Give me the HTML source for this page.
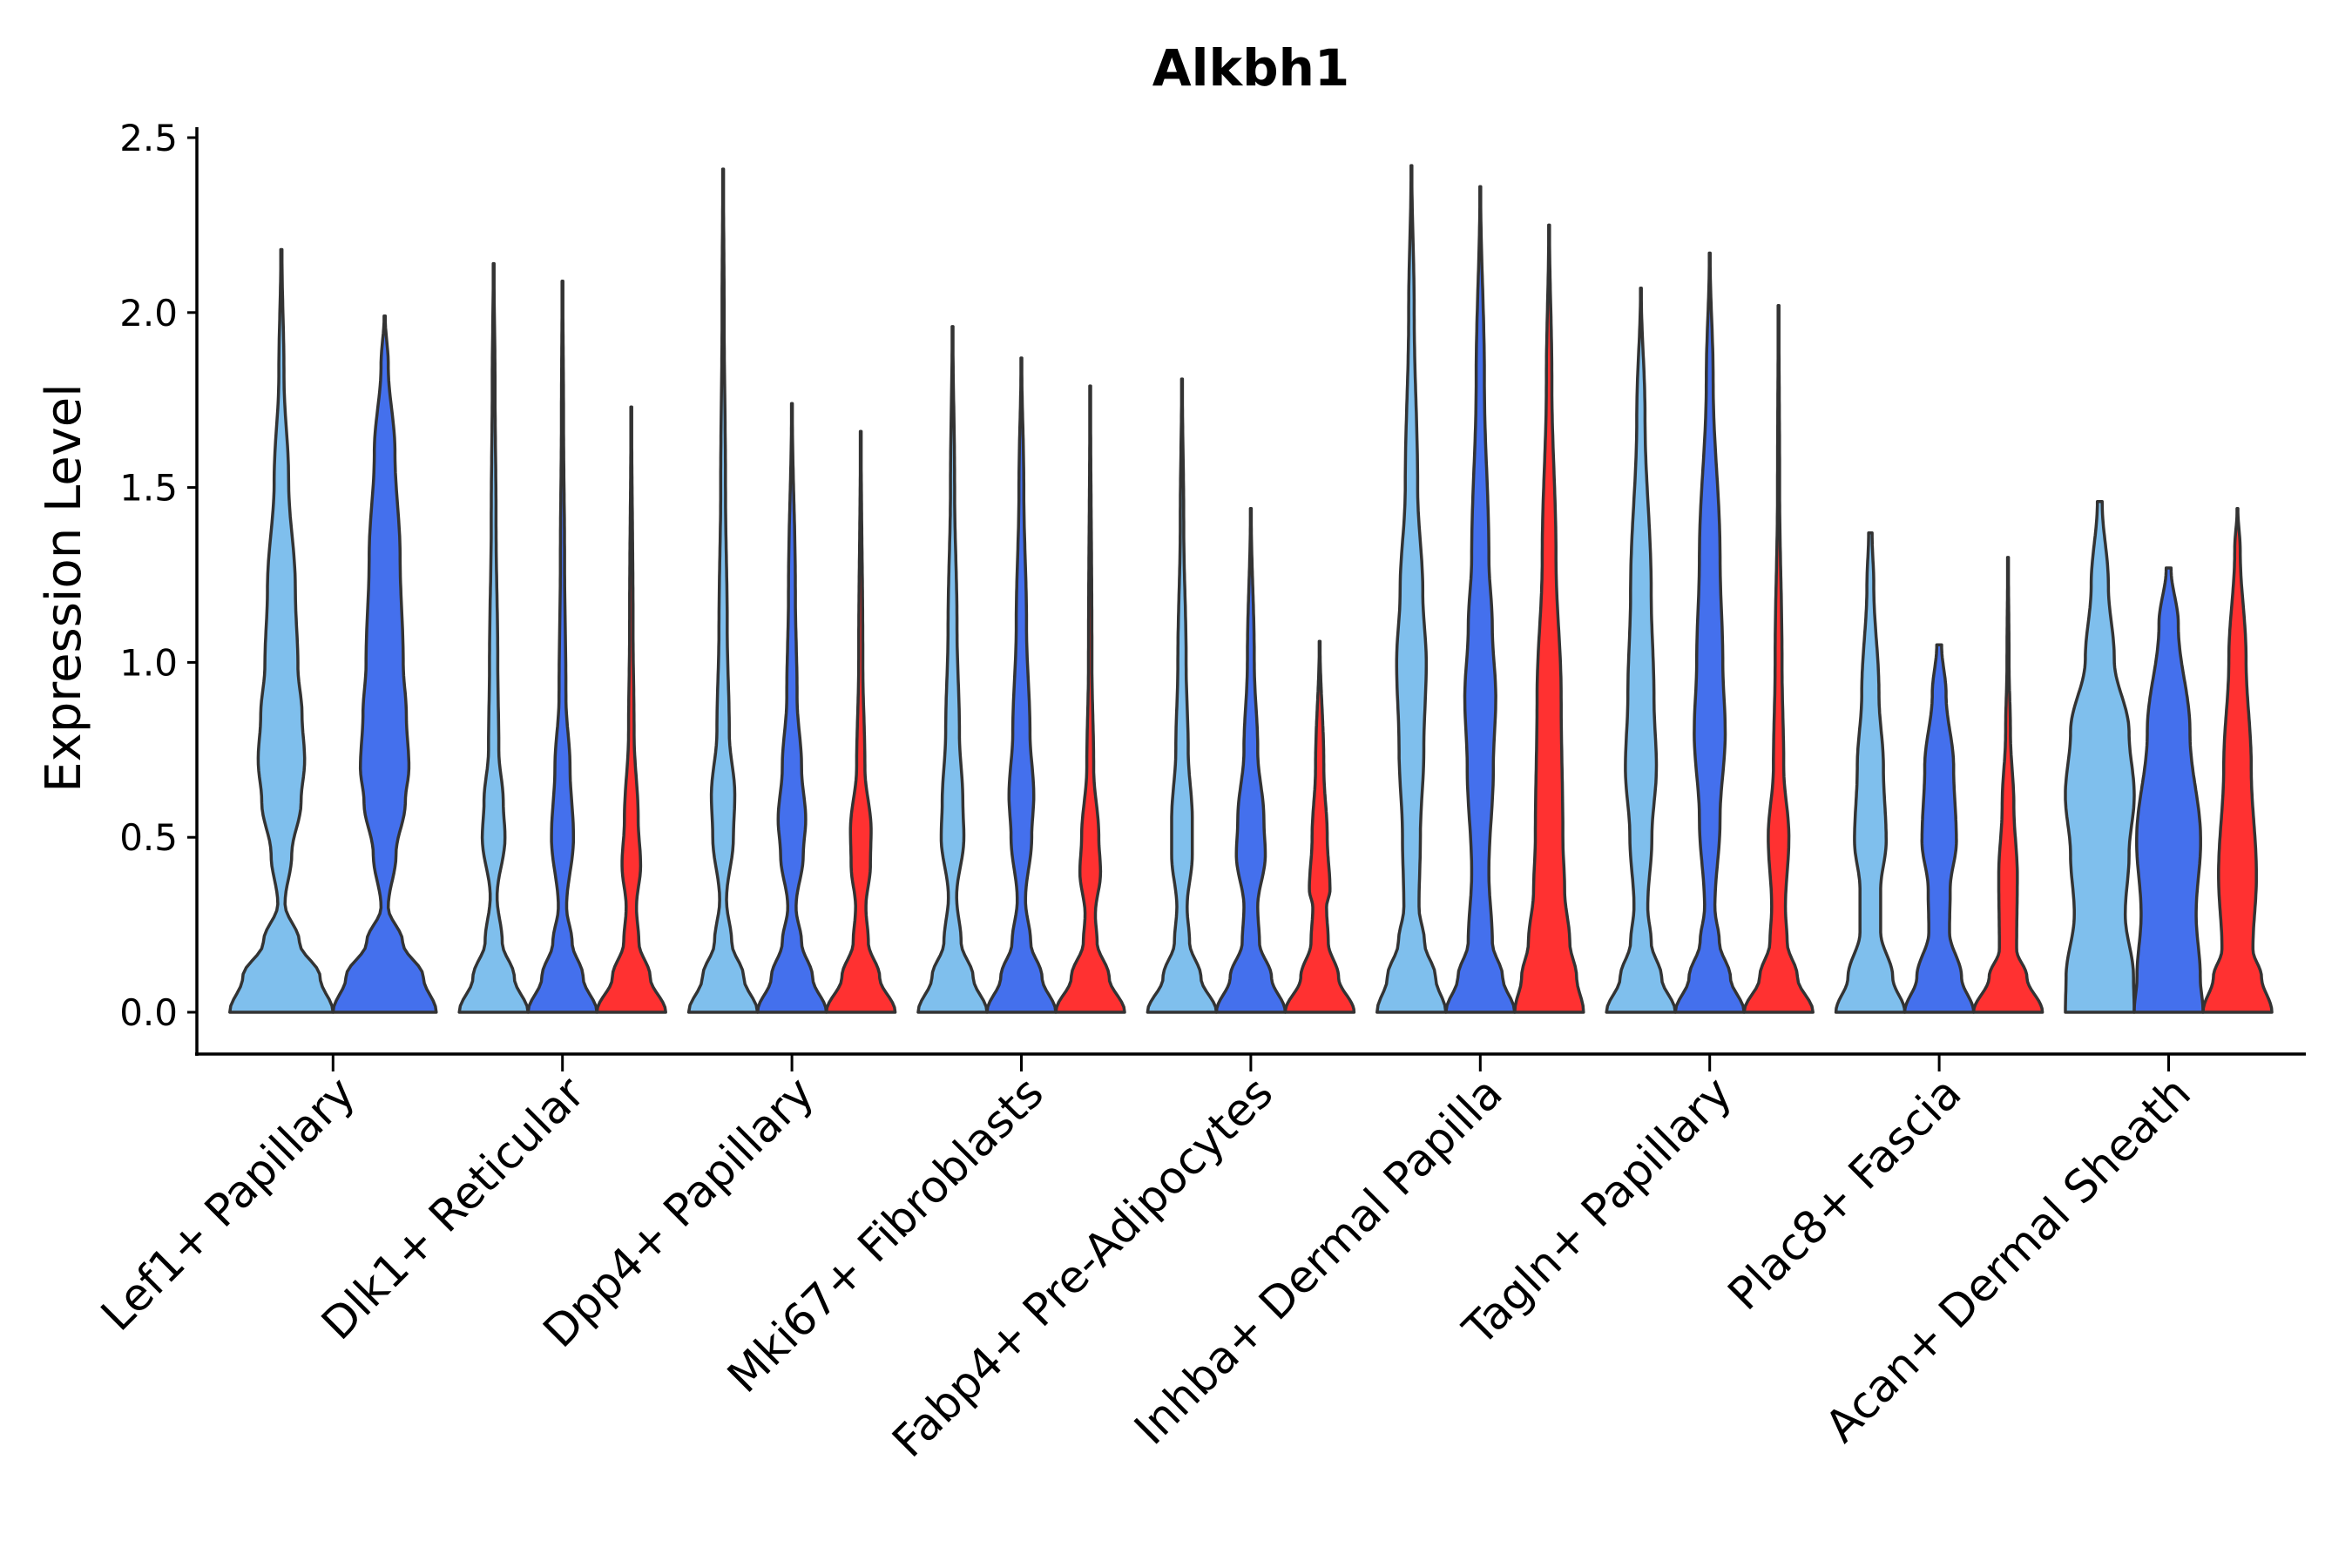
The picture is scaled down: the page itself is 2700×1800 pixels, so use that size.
<!DOCTYPE html>
<html><head><meta charset="utf-8"><style>
html,body{margin:0;padding:0;background:#fff;}
svg{display:block;font-family:"DejaVu Sans","Liberation Sans",sans-serif;}
</style></head><body>
<svg id="chart" width="2700" height="1800" viewBox="0 0 2700 1800" xmlns="http://www.w3.org/2000/svg">
<text x="1436" y="98" text-anchor="middle" font-size="58" font-weight="bold">Alkbh1</text>
<g id="violins"></g>
<g id="axes"></g>
<text transform="translate(92,675) rotate(-90)" text-anchor="middle" font-size="56">Expression Level</text>
</svg>
<script>
const categories = ["Lef1+ Papillary","Dlk1+ Reticular","Dpp4+ Papillary","Mki67+ Fibroblasts","Fabp4+ Pre-Adipocytes","Inhba+ Dermal Papilla","Tagln+ Papillary","Plac8+ Fascia","Acan+ Dermal Sheath"];
const yTicks = [0, 0.5, 1.0, 1.5, 2.0, 2.5];
const yTickLabels = ["0.0","0.5","1.0","1.5","2.0","2.5"];
const seriesNames = ["light","blue","red"];
const seriesColors = ["#7fbfed","#4470ed","#ff3131"];
// violins: [categoryIndex, seriesIndex, slotCount, slotIndex]
const violinGroups = [[0,0,2,0],[0,1,2,1],
 [1,0,3,0],[1,1,3,1],[1,2,3,2],
 [2,0,3,0],[2,1,3,1],[2,2,3,2],
 [3,0,3,0],[3,1,3,1],[3,2,3,2],
 [4,0,3,0],[4,1,3,1],[4,2,3,2],
 [5,0,3,0],[5,1,3,1],[5,2,3,2],
 [6,0,3,0],[6,1,3,1],[6,2,3,2],
 [7,0,3,0],[7,1,3,1],[7,2,3,2],
 [8,0,3,0],[8,1,3,1],[8,2,3,2]];
// density knots: [expression value, relative density]
const densities = [
 [[0,1],[0.1,0.75],[0.2,0.35],[0.31,0.07],[0.45,0.2],[0.6,0.38],[0.72,0.45],[0.85,0.4],[0.99,0.32],[1.21,0.27],[1.52,0.14],[1.82,0.05],[2.18,0.01]],
 [[0,1],[0.1,0.75],[0.2,0.35],[0.3,0.07],[0.45,0.22],[0.6,0.4],[0.7,0.47],[0.85,0.42],[1.0,0.36],[1.3,0.3],[1.6,0.2],[1.85,0.07],[1.99,0.01]],
 [[0,1],[0.1,0.6],[0.2,0.25],[0.33,0.1],[0.5,0.33],[0.6,0.28],[0.75,0.15],[1.0,0.12],[1.4,0.07],[1.8,0.04],[2.14,0.01]],
 [[0,1],[0.1,0.6],[0.2,0.28],[0.3,0.12],[0.5,0.32],[0.7,0.22],[0.9,0.1],[1.3,0.06],[1.7,0.03],[2.09,0.01]],
 [[0,1],[0.1,0.55],[0.2,0.22],[0.3,0.15],[0.42,0.27],[0.55,0.2],[0.8,0.08],[1.1,0.05],[1.73,0.01]],
 [[0,1],[0.1,0.6],[0.2,0.25],[0.32,0.1],[0.5,0.3],[0.62,0.34],[0.8,0.18],[1.1,0.12],[1.5,0.07],[2.0,0.03],[2.41,0.01]],
 [[0,1],[0.1,0.6],[0.2,0.28],[0.3,0.12],[0.45,0.33],[0.55,0.4],[0.7,0.28],[0.9,0.15],[1.2,0.1],[1.74,0.01]],
 [[0,1],[0.1,0.55],[0.2,0.22],[0.3,0.15],[0.42,0.28],[0.52,0.3],[0.7,0.12],[1.0,0.06],[1.66,0.01]],
 [[0,1],[0.1,0.6],[0.2,0.25],[0.33,0.12],[0.5,0.33],[0.6,0.3],[0.8,0.2],[1.1,0.13],[1.5,0.06],[1.96,0.01]],
 [[0,1],[0.1,0.6],[0.2,0.27],[0.32,0.12],[0.5,0.3],[0.62,0.36],[0.8,0.25],[1.1,0.15],[1.5,0.07],[1.87,0.01]],
 [[0,1],[0.1,0.55],[0.2,0.2],[0.28,0.15],[0.4,0.3],[0.5,0.25],[0.7,0.1],[1.0,0.05],[1.79,0.01]],
 [[0,1],[0.1,0.55],[0.2,0.22],[0.3,0.15],[0.45,0.3],[0.55,0.3],[0.75,0.18],[1.0,0.12],[1.4,0.05],[1.81,0.01]],
 [[0,1],[0.1,0.6],[0.2,0.25],[0.3,0.2],[0.45,0.42],[0.55,0.38],[0.75,0.2],[1.0,0.1],[1.44,0.01]],
 [[0,1],[0.1,0.55],[0.2,0.25],[0.3,0.2],[0.35,0.3],[0.5,0.22],[0.7,0.12],[1.06,0.01]],
 [[0,1],[0.1,0.7],[0.2,0.38],[0.3,0.22],[0.5,0.26],[0.75,0.36],[1.0,0.43],[1.2,0.33],[1.5,0.18],[2.0,0.08],[2.42,0.01]],
 [[0,1],[0.1,0.65],[0.2,0.35],[0.4,0.25],[0.7,0.38],[0.9,0.45],[1.1,0.35],[1.3,0.25],[1.8,0.12],[2.36,0.01]],
 [[0,1],[0.1,0.8],[0.2,0.6],[0.35,0.45],[0.5,0.4],[0.9,0.35],[1.3,0.2],[1.8,0.08],[2.25,0.01]],
 [[0,1],[0.1,0.6],[0.2,0.3],[0.3,0.2],[0.5,0.32],[0.7,0.45],[0.9,0.38],[1.2,0.3],[1.7,0.12],[2.07,0.01]],
 [[0,1],[0.1,0.6],[0.2,0.28],[0.3,0.15],[0.55,0.3],[0.8,0.45],[1.0,0.38],[1.3,0.3],[1.8,0.1],[2.17,0.01]],
 [[0,1],[0.1,0.55],[0.2,0.25],[0.3,0.2],[0.5,0.3],[0.7,0.15],[1.0,0.1],[1.5,0.03],[2.02,0.01]],
 [[0,1],[0.1,0.65],[0.23,0.3],[0.35,0.3],[0.49,0.46],[0.7,0.38],[0.91,0.25],[1.22,0.1],[1.37,0.05]],
 [[0,1],[0.1,0.65],[0.23,0.3],[0.35,0.32],[0.49,0.5],[0.7,0.42],[0.91,0.2],[1.05,0.07]],
 [[0,1],[0.1,0.55],[0.18,0.25],[0.39,0.27],[0.59,0.17],[0.8,0.07],[1.0,0.03],[1.3,0.01]],
 [[0,1],[0.1,0.98],[0.28,0.74],[0.45,0.85],[0.62,1.0],[0.8,0.85],[1.01,0.42],[1.22,0.25],[1.46,0.07]],
 [[0,1],[0.1,0.92],[0.28,0.8],[0.49,0.93],[0.8,0.62],[1.11,0.28],[1.27,0.07]],
 [[0,1],[0.1,0.7],[0.18,0.45],[0.39,0.55],[0.7,0.4],[1.01,0.25],[1.32,0.08],[1.44,0.01]]
];

const X0 = 226, X1 = 2647, YB = 1210, Y0 = 1162, PXU = 401.6;
const G0 = 382.3, GS = 263.4;
function yScale(v){ return Y0 - v*PXU; }
function xScale(i){ return G0 + i*GS; }
const NS = "http://www.w3.org/2000/svg";
function mk(tag, attrs, parent){ const e=document.createElementNS(NS,tag); for(const k in attrs) e.setAttribute(k,attrs[k]); parent.appendChild(e); return e; }

const vg = document.getElementById('violins');
function interp(knots, v){
  for(let i=0;i<knots.length-1;i++){
    const a=knots[i], b=knots[i+1];
    if(v>=a[0] && v<=b[0]){ const t=(v-a[0])/(b[0]-a[0]); const c=(1-Math.cos(Math.PI*t))/2; return a[1]+(b[1]-a[1])*c; }
  }
  return knots[knots.length-1][1];
}
violinGroups.forEach((g,idx)=>{
  const [ci, si, n, k] = g;
  const bandW = 0.9*GS, slotW = bandW/n;
  const cx = xScale(ci) - bandW/2 + slotW*(k+0.5);
  const half = slotW/2;
  const knots = densities[idx];
  const vmax = knots[knots.length-1][0];
  const steps = 120; const right=[], left=[];
  for(let s=0;s<=steps;s++){
    const v = vmax*s/steps; const w = Math.max(interp(knots,v),0.012)*half;
    right.push([cx+w, yScale(v)]); left.push([cx-w, yScale(v)]);
  }
  let d = "M"+left[0][0].toFixed(1)+","+left[0][1].toFixed(1);
  right.forEach(p=>{ d+=" L"+p[0].toFixed(1)+","+p[1].toFixed(1); });
  for(let i=left.length-1;i>=0;i--) d+=" L"+left[i][0].toFixed(1)+","+left[i][1].toFixed(1);
  d+=" Z";
  const p = mk('path',{d:d, fill:seriesColors[si], stroke:'#333333','stroke-width':3.5,'stroke-linejoin':'round'},vg);
  
  
});

const ax = document.getElementById('axes');
const yl = mk('line',{x1:X0,y1:146,x2:X0,y2:YB+2,stroke:'#000','stroke-width':3.5},ax);


const xl = mk('line',{x1:X0-2,y1:YB,x2:X1,y2:YB,stroke:'#000','stroke-width':3.5},ax);


yTicks.forEach((v,i)=>{
  const y=yScale(v);
  const t=mk('line',{x1:X0-11,y1:y,x2:X0,y2:y,stroke:'#000','stroke-width':3},ax);
  
  
  const tx=mk('text',{x:X0-22,y:y+15,'text-anchor':'end','font-size':42,fill:'#000'},ax);
  tx.textContent=yTickLabels[i];
  
  
});
categories.forEach((c,i)=>{
  const x=xScale(i);
  const t=mk('line',{x1:x,y1:YB,x2:x,y2:YB+20,stroke:'#000','stroke-width':3},ax);
  
  
  const tx=mk('text',{transform:'translate('+(x+28)+','+(YB+48)+') rotate(-45)','text-anchor':'end','font-size':51,fill:'#000'},ax);
  tx.textContent=c;
  
  
});
</script>
</body></html>
